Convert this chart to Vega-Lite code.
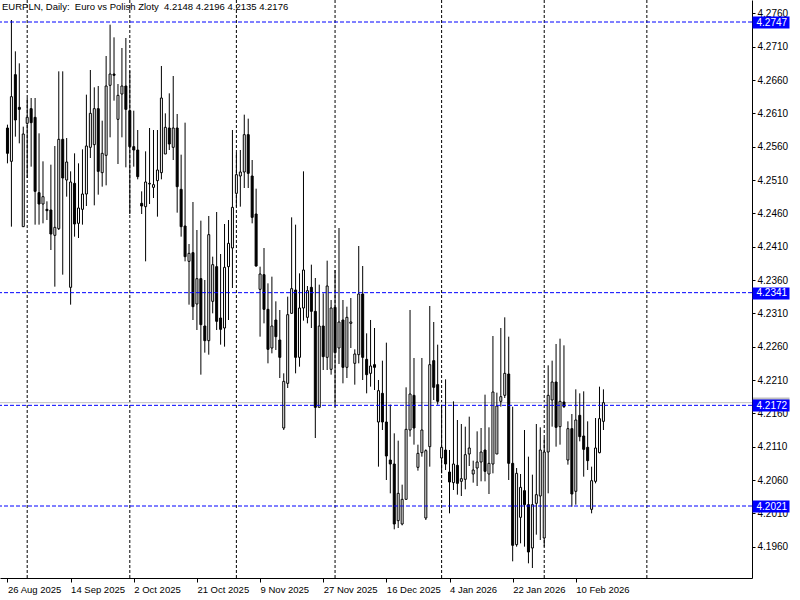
{
 "$schema": "https://vega.github.io/schema/vega-lite/v6.json",
 "width": 752, "height": 578,
 "autosize": {"type": "none"},
 "padding": {"left": 0, "top": 0, "right": 48, "bottom": 22},
 "background": "white",
 "title": {"text": "EURPLN, Daily:\u00a0 Euro vs Polish Zloty\u00a0 4.2148 4.2196 4.2135 4.2176", "anchor": "start", "frame": "group", "offset": -12, "font": "Liberation Sans", "fontSize": 9.5, "fontWeight": "normal", "color": "black", "dx": 2},
 "config": {"view": {"stroke": null}, "axis": {"labelFont": "Liberation Sans", "labelFontSize": 10, "labelColor": "black", "domainColor": "black", "tickColor": "black", "grid": false, "title": null}},
 "datasets": {"bars": [
{"i":0,"o":4.2588,"h":4.2593,"l":4.2535,"c":4.2550},
{"i":1,"o":4.2538,"h":4.2750,"l":4.2440,"c":4.2635},
{"i":2,"o":4.2668,"h":4.2703,"l":4.2575,"c":4.2600},
{"i":3,"o":4.2619,"h":4.2685,"l":4.2565,"c":4.2616},
{"i":4,"o":4.2440,"h":4.2590,"l":4.2440,"c":4.2579},
{"i":5,"o":4.2595,"h":4.2633,"l":4.2513,"c":4.2604},
{"i":6,"o":4.2617,"h":4.2633,"l":4.2530,"c":4.2596},
{"i":7,"o":4.2604,"h":4.2633,"l":4.2443,"c":4.2493},
{"i":8,"o":4.2491,"h":4.2580,"l":4.2443,"c":4.2474},
{"i":9,"o":4.2474,"h":4.2538,"l":4.2445,"c":4.2485},
{"i":10,"o":4.2466,"h":4.2478,"l":4.2450,"c":4.2464},
{"i":11,"o":4.2465,"h":4.2533,"l":4.2405,"c":4.2429},
{"i":12,"o":4.2427,"h":4.2561,"l":4.2350,"c":4.2439},
{"i":13,"o":4.2437,"h":4.2673,"l":4.2435,"c":4.2571},
{"i":14,"o":4.2571,"h":4.2673,"l":4.2368,"c":4.2513},
{"i":15,"o":4.2510,"h":4.2573,"l":4.2485,"c":4.2537},
{"i":16,"o":4.2349,"h":4.2523,"l":4.2323,"c":4.2507},
{"i":17,"o":4.2505,"h":4.2550,"l":4.2425,"c":4.2444},
{"i":18,"o":4.2445,"h":4.2535,"l":4.2423,"c":4.2468},
{"i":19,"o":4.2466,"h":4.2556,"l":4.2443,"c":4.2489},
{"i":20,"o":4.2489,"h":4.2638,"l":4.2471,"c":4.2561},
{"i":21,"o":4.2559,"h":4.2675,"l":4.2543,"c":4.2610},
{"i":22,"o":4.2563,"h":4.2649,"l":4.2472,"c":4.2617},
{"i":23,"o":4.2617,"h":4.2651,"l":4.2488,"c":4.2523},
{"i":24,"o":4.2521,"h":4.2599,"l":4.2500,"c":4.2550},
{"i":25,"o":4.2547,"h":4.2696,"l":4.2502,"c":4.2651},
{"i":26,"o":4.2652,"h":4.2743,"l":4.2574,"c":4.2669},
{"i":27,"o":4.2669,"h":4.2724,"l":4.2629,"c":4.2667},
{"i":28,"o":4.2601,"h":4.2654,"l":4.2534,"c":4.2637},
{"i":29,"o":4.2639,"h":4.2708,"l":4.2574,"c":4.2651},
{"i":30,"o":4.2651,"h":4.2723,"l":4.2529,"c":4.2616},
{"i":31,"o":4.2614,"h":4.2674,"l":4.2459,"c":4.2560},
{"i":32,"o":4.2560,"h":4.2614,"l":4.2530,"c":4.2555},
{"i":33,"o":4.2555,"h":4.2585,"l":4.2511,"c":4.2515},
{"i":34,"o":4.2475,"h":4.2493,"l":4.2459,"c":4.2471},
{"i":35,"o":4.2470,"h":4.2553,"l":4.2388,"c":4.2507},
{"i":36,"o":4.2504,"h":4.2588,"l":4.2474,"c":4.2505},
{"i":37,"o":4.2499,"h":4.2585,"l":4.2483,"c":4.2503},
{"i":38,"o":4.2509,"h":4.2585,"l":4.2455,"c":4.2525},
{"i":39,"o":4.2521,"h":4.2681,"l":4.2511,"c":4.2633},
{"i":40,"o":4.2549,"h":4.2610,"l":4.2549,"c":4.2589},
{"i":41,"o":4.2588,"h":4.2640,"l":4.2555,"c":4.2564},
{"i":42,"o":4.2559,"h":4.2666,"l":4.2540,"c":4.2588},
{"i":43,"o":4.2588,"h":4.2609,"l":4.2461,"c":4.2500},
{"i":44,"o":4.2496,"h":4.2548,"l":4.2425,"c":4.2440},
{"i":45,"o":4.2441,"h":4.2596,"l":4.2388,"c":4.2395},
{"i":46,"o":4.2388,"h":4.2414,"l":4.2323,"c":4.2400},
{"i":47,"o":4.2401,"h":4.2477,"l":4.2300,"c":4.2320},
{"i":48,"o":4.2324,"h":4.2435,"l":4.2285,"c":4.2362},
{"i":49,"o":4.2362,"h":4.2449,"l":4.2218,"c":4.2293},
{"i":50,"o":4.2291,"h":4.2360,"l":4.2251,"c":4.2269},
{"i":51,"o":4.2269,"h":4.2456,"l":4.2248,"c":4.2428},
{"i":52,"o":4.2328,"h":4.2395,"l":4.2310,"c":4.2383},
{"i":53,"o":4.2380,"h":4.2462,"l":4.2285,"c":4.2298},
{"i":54,"o":4.2303,"h":4.2399,"l":4.2263,"c":4.2286},
{"i":55,"o":4.2288,"h":4.2444,"l":4.2260,"c":4.2379},
{"i":56,"o":4.2380,"h":4.2450,"l":4.2300,"c":4.2415},
{"i":57,"o":4.2408,"h":4.2585,"l":4.2348,"c":4.2469},
{"i":58,"o":4.2490,"h":4.2551,"l":4.2470,"c":4.2518},
{"i":59,"o":4.2516,"h":4.2555,"l":4.2470,"c":4.2522},
{"i":60,"o":4.2522,"h":4.2608,"l":4.2498,"c":4.2578},
{"i":61,"o":4.2578,"h":4.2602,"l":4.2498,"c":4.2520},
{"i":62,"o":4.2516,"h":4.2540,"l":4.2445,"c":4.2454},
{"i":63,"o":4.2459,"h":4.2497,"l":4.2380,"c":4.2381},
{"i":64,"o":4.2346,"h":4.2380,"l":4.2275,"c":4.2369},
{"i":65,"o":4.2368,"h":4.2408,"l":4.2295,"c":4.2316},
{"i":66,"o":4.2316,"h":4.2355,"l":4.2235,"c":4.2256},
{"i":67,"o":4.2258,"h":4.2365,"l":4.2250,"c":4.2291},
{"i":68,"o":4.2300,"h":4.2328,"l":4.2255,"c":4.2275},
{"i":69,"o":4.2270,"h":4.2315,"l":4.2213,"c":4.2244},
{"i":70,"o":4.2138,"h":4.2220,"l":4.2135,"c":4.2208},
{"i":71,"o":4.2205,"h":4.2335,"l":4.2198,"c":4.2308},
{"i":72,"o":4.2310,"h":4.2454,"l":4.2310,"c":4.2347},
{"i":73,"o":4.2345,"h":4.2443,"l":4.2220,"c":4.2244},
{"i":74,"o":4.2244,"h":4.2370,"l":4.2230,"c":4.2318},
{"i":75,"o":4.2318,"h":4.2523,"l":4.2299,"c":4.2375},
{"i":76,"o":4.2304,"h":4.2351,"l":4.2295,"c":4.2344},
{"i":77,"o":4.2349,"h":4.2383,"l":4.2288,"c":4.2313},
{"i":78,"o":4.2313,"h":4.2363,"l":4.2123,"c":4.2169},
{"i":79,"o":4.2169,"h":4.2353,"l":4.2169,"c":4.2291},
{"i":80,"o":4.2291,"h":4.2340,"l":4.2225,"c":4.2245},
{"i":81,"o":4.2244,"h":4.2389,"l":4.2225,"c":4.2351},
{"i":82,"o":4.2226,"h":4.2330,"l":4.2218,"c":4.2318},
{"i":83,"o":4.2319,"h":4.2375,"l":4.2170,"c":4.2251},
{"i":84,"o":4.2258,"h":4.2438,"l":4.2234,"c":4.2297},
{"i":85,"o":4.2300,"h":4.2330,"l":4.2205,"c":4.2229},
{"i":86,"o":4.2229,"h":4.2320,"l":4.2213,"c":4.2304},
{"i":87,"o":4.2295,"h":4.2333,"l":4.2258,"c":4.2297},
{"i":88,"o":4.2235,"h":4.2256,"l":4.2203,"c":4.2249},
{"i":89,"o":4.2248,"h":4.2411,"l":4.2235,"c":4.2339},
{"i":90,"o":4.2339,"h":4.2381,"l":4.2210,"c":4.2244},
{"i":91,"o":4.2241,"h":4.2280,"l":4.2190,"c":4.2218},
{"i":92,"o":4.2220,"h":4.2300,"l":4.2200,"c":4.2231},
{"i":93,"o":4.2233,"h":4.2288,"l":4.2195,"c":4.2229},
{"i":94,"o":4.2147,"h":4.2210,"l":4.2080,"c":4.2194},
{"i":95,"o":4.2190,"h":4.2239,"l":4.2135,"c":4.2147},
{"i":96,"o":4.2147,"h":4.2266,"l":4.2060,"c":4.2096},
{"i":97,"o":4.2090,"h":4.2173,"l":4.2040,"c":4.2084},
{"i":98,"o":4.2084,"h":4.2130,"l":4.1986,"c":4.1994},
{"i":99,"o":4.1999,"h":4.2119,"l":4.1988,"c":4.2040},
{"i":100,"o":4.1994,"h":4.2053,"l":4.1992,"c":4.2031},
{"i":101,"o":4.2031,"h":4.2199,"l":4.2031,"c":4.2136},
{"i":102,"o":4.2135,"h":4.2315,"l":4.2125,"c":4.2189},
{"i":103,"o":4.2187,"h":4.2243,"l":4.2113,"c":4.2138},
{"i":104,"o":4.2079,"h":4.2113,"l":4.2074,"c":4.2100},
{"i":105,"o":4.2101,"h":4.2243,"l":4.2095,"c":4.2135},
{"i":106,"o":4.2003,"h":4.2106,"l":4.2000,"c":4.2104},
{"i":107,"o":4.2110,"h":4.2321,"l":4.2080,"c":4.2233},
{"i":108,"o":4.2239,"h":4.2297,"l":4.2180,"c":4.2199},
{"i":109,"o":4.2203,"h":4.2263,"l":4.2173,"c":4.2178},
{"i":110,"o":4.2093,"h":4.2173,"l":4.2070,"c":4.2109},
{"i":111,"o":4.2105,"h":4.2211,"l":4.2075,"c":4.2084},
{"i":112,"o":4.2072,"h":4.2105,"l":4.2010,"c":4.2057},
{"i":113,"o":4.2056,"h":4.2178,"l":4.2045,"c":4.2084},
{"i":114,"o":4.2082,"h":4.2150,"l":4.2038,"c":4.2055},
{"i":115,"o":4.2058,"h":4.2144,"l":4.2036,"c":4.2062},
{"i":116,"o":4.2061,"h":4.2140,"l":4.2046,"c":4.2098},
{"i":117,"o":4.2099,"h":4.2155,"l":4.2081,"c":4.2108},
{"i":118,"o":4.2069,"h":4.2089,"l":4.2056,"c":4.2075},
{"i":119,"o":4.2078,"h":4.2133,"l":4.2051,"c":4.2087},
{"i":120,"o":4.2087,"h":4.2138,"l":4.2058,"c":4.2102},
{"i":121,"o":4.2105,"h":4.2188,"l":4.2058,"c":4.2073},
{"i":122,"o":4.2069,"h":4.2139,"l":4.2039,"c":4.2085},
{"i":123,"o":4.2084,"h":4.2276,"l":4.2070,"c":4.2192},
{"i":124,"o":4.2099,"h":4.2191,"l":4.2099,"c":4.2171},
{"i":125,"o":4.2178,"h":4.2288,"l":4.2170,"c":4.2185},
{"i":126,"o":4.2187,"h":4.2304,"l":4.2183,"c":4.2220},
{"i":127,"o":4.2219,"h":4.2275,"l":4.2060,"c":4.2085},
{"i":128,"o":4.2085,"h":4.2170,"l":4.1938,"c":4.1962},
{"i":129,"o":4.1963,"h":4.2078,"l":4.1960,"c":4.2070},
{"i":130,"o":4.2004,"h":4.2069,"l":4.1965,"c":4.2049},
{"i":131,"o":4.2044,"h":4.2135,"l":4.1960,"c":4.2023},
{"i":132,"o":4.2023,"h":4.2095,"l":4.1935,"c":4.1952},
{"i":133,"o":4.1958,"h":4.2068,"l":4.1928,"c":4.2023},
{"i":134,"o":4.2025,"h":4.2144,"l":4.1978,"c":4.2038},
{"i":135,"o":4.2036,"h":4.2139,"l":4.1970,"c":4.2105},
{"i":136,"o":4.1973,"h":4.2123,"l":4.1960,"c":4.2102},
{"i":137,"o":4.2102,"h":4.2232,"l":4.2040,"c":4.2187},
{"i":138,"o":4.2180,"h":4.2239,"l":4.2140,"c":4.2207},
{"i":139,"o":4.2207,"h":4.2264,"l":4.2110,"c":4.2139},
{"i":140,"o":4.2140,"h":4.2272,"l":4.2113,"c":4.2178},
{"i":141,"o":4.2177,"h":4.2262,"l":4.2168,"c":4.2170},
{"i":142,"o":4.2090,"h":4.2148,"l":4.2083,"c":4.2137},
{"i":143,"o":4.2137,"h":4.2159,"l":4.2020,"c":4.2039},
{"i":144,"o":4.2043,"h":4.2196,"l":4.2023,"c":4.2150},
{"i":145,"o":4.2157,"h":4.2190,"l":4.2118,"c":4.2125},
{"i":146,"o":4.2126,"h":4.2193,"l":4.2065,"c":4.2106},
{"i":147,"o":4.2109,"h":4.2148,"l":4.2075,"c":4.2089},
{"i":148,"o":4.2016,"h":4.2080,"l":4.2010,"c":4.2059},
{"i":149,"o":4.2058,"h":4.2153,"l":4.2055,"c":4.2108},
{"i":150,"o":4.2101,"h":4.2200,"l":4.2100,"c":4.2152},
{"i":151,"o":4.2148,"h":4.2196,"l":4.2135,"c":4.2176}
 ]},
 "resolve": {"axis": {"x": "independent", "y": "independent"}},
 "layer": [
  {"data": {"values": [{"g":5},{"g":31},{"g":58},{"g":83},{"g":110},{"g":136},{"g":162}]},
   "mark": {"type": "rule", "color": "black", "strokeDash": [3,2], "strokeWidth": 1},
   "encoding": {"x": {"field": "g", "type": "quantitative", "scale": {"domain": [-0.625, 187.375], "nice": false, "zero": false}, "axis": null}}},
  {"data": {"values": [{"bid": 4.2176}]},
   "mark": {"type": "rule", "color": "#c0c0c0", "strokeWidth": 1},
   "encoding": {"y": {"field": "bid", "type": "quantitative", "scale": {"domain": [4.1913, 4.2780], "nice": false, "zero": false},
     "axis": {"orient": "right", "values": [4.2176], "domain": false, "labels": false, "tickSize": 37, "tickWidth": 12, "tickColor": "#c0c0c0", "zindex": 0}}}},
  {"data": {"name": "bars"},
   "mark": {"type": "rule", "color": "black", "strokeWidth": 1},
   "encoding": {
    "x": {"field": "i", "type": "quantitative", "scale": {"domain": [-0.625, 187.375], "nice": false, "zero": false},
          "axis": {"orient": "bottom", "values": [0,16,32,48,64,80,96,112,128,144], "labelExpr": "['26 Aug 2025','14 Sep 2025','2 Oct 2025','21 Oct 2025','9 Nov 2025','27 Nov 2025','16 Dec 2025','4 Jan 2026','22 Jan 2026','10 Feb 2026'][round(datum.value/16)]", "labelAlign": "left", "labelAngle": 0, "labelFontSize": 9.5, "tickSize": 4, "labelPadding": 2, "labelFlush": false, "labelOverlap": false, "labelBound": false}},
    "y": {"field": "l", "type": "quantitative", "scale": {"domain": [4.1913, 4.2780], "nice": false, "zero": false},
          "axis": {"orient": "right", "values": [4.196,4.201,4.206,4.211,4.216,4.221,4.226,4.231,4.236,4.241,4.246,4.251,4.256,4.261,4.266,4.271,4.276], "format": ".4f", "tickSize": 3, "labelPadding": 2, "labelOverlap": false, "labelFlush": false, "labelBound": false}},
    "y2": {"field": "h"}}},
  {"data": {"name": "bars"},
   "mark": {"type": "bar", "size": 2, "stroke": "black", "strokeWidth": 1},
   "encoding": {
    "x": {"field": "i", "type": "quantitative", "scale": {"domain": [-0.625, 187.375], "nice": false, "zero": false}, "axis": null},
    "y": {"field": "o", "type": "quantitative", "scale": {"domain": [4.1913, 4.2780], "nice": false, "zero": false}, "axis": null},
    "y2": {"field": "c"},
    "fill": {"condition": {"test": "datum.c < datum.o", "value": "black"}, "value": "white"}}},
  {"data": {"values": [{"lv": 4.2747},{"lv": 4.2341},{"lv": 4.2172},{"lv": 4.2021}]},
   "mark": {"type": "rule", "color": "#0000ff", "strokeDash": [4,2], "strokeWidth": 1},
   "encoding": {"y": {"field": "lv", "type": "quantitative", "scale": {"domain": [4.1913, 4.2780], "nice": false, "zero": false},
     "axis": {"orient": "right", "values": [4.2747, 4.2341, 4.2172, 4.2021], "domain": false, "tickSize": 37, "tickWidth": 12, "tickColor": "#0000ff",
      "labelColor": "white", "labelPadding": -33, "labelAlign": "left", "labelOverlap": false, "labelFlush": false, "labelBound": false,
      "format": ".4f", "zindex": 1}}}}
 ]
}
